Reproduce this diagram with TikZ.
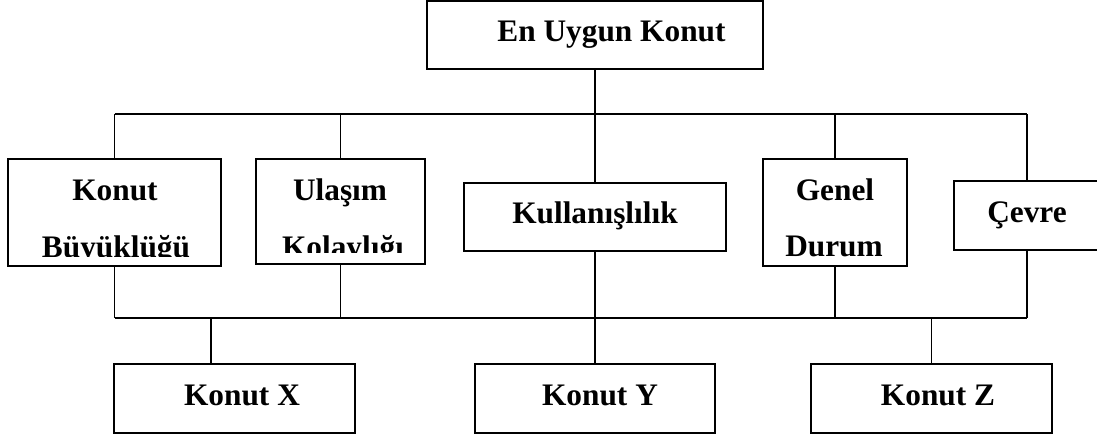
\documentclass[tikz,border=0pt]{standalone}
\usepackage{fontspec}
\setmainfont{Liberation Serif}
\begin{document}
\begin{tikzpicture}[x=0.75pt,y=-0.75pt,
  box/.style={draw,line width=1.5pt,rectangle,inner sep=0pt,outer sep=0pt},
  lbl/.style={anchor=base,inner sep=0pt,font=\fontsize{23.5}{28}\selectfont\bfseries},
  wire/.style={line width=1.1pt},
  bus/.style={line width=1.9pt}]
\useasboundingbox (0,0) rectangle (1097,436);
\clip (0,0) rectangle (1097,436);

% boxes
\node[box,minimum width=336*0.75pt,minimum height=68*0.75pt] (top) at (595,35) {};
\node[box,minimum width=213*0.75pt,minimum height=107*0.75pt] (b1) at (114.5,212.5) {};
\node[box,minimum width=169*0.75pt,minimum height=105*0.75pt] (b2) at (340.5,211.5) {};
\node[box,minimum width=262*0.75pt,minimum height=68*0.75pt] (b3) at (595,217) {};
\node[box,minimum width=144*0.75pt,minimum height=107*0.75pt] (b4) at (835,212.5) {};
\node[box,minimum width=146*0.75pt,minimum height=69*0.75pt] (b5) at (1027,215.5) {};
\node[box,minimum width=241*0.75pt,minimum height=69*0.75pt] (kx) at (234.5,398.5) {};
\node[box,minimum width=240*0.75pt,minimum height=69*0.75pt] (ky) at (595,398.5) {};
\node[box,minimum width=241*0.75pt,minimum height=69*0.75pt] (kz) at (931.5,398.5) {};

% labels
\node[lbl] (ttop) at (611.5,41.7) {En Uygun Konut};
\node[lbl] (t1a) at (115,200) {Konut};
\begin{scope}
  \clip (0,230) rectangle (230,256);
  \node[lbl] (t1b) at (116,257) {Büyüklüğü};
\end{scope}
\node[lbl] (t2a) at (340,200) {Ulaşım};
\begin{scope}
  \clip (250,225) rectangle (430,252);
  \node[lbl] (t2b) at (343,257) {Kolaylığı};
\end{scope}
\node[lbl] (t3) at (595,223) {Kullanışlılık};
\node[lbl] (t4a) at (835,200) {Genel};
\node[lbl] (t4b) at (834,256) {Durum};
\node[lbl] (t5) at (1027,222) {Çevre};
\node[lbl] (tx) at (242,405) {Konut X};
\node[lbl] (ty) at (600,405) {Konut Y};
\node[lbl] (tz) at (938,405) {Konut Z};

% upper bus
\coordinate (ub) at (595,114);
\draw[wire] (top.south) -- (ub);
\draw[wire] (b1.north |- ub) -- (b5.north |- ub);
\foreach \b in {b1,b2,b3,b4,b5}
  \draw[wire] (\b.north |- ub) -- (\b.north);

% lower bus
\coordinate (lb) at (595,318);
\foreach \b in {b1,b2,b3,b4,b5}
  \draw[wire] (\b.south) -- (\b.south |- lb);
\draw[bus] (b1.south |- lb) -- (b5.south |- lb);
\coordinate (dx) at (211,318);
\draw[wire] (dx) -- (dx |- kx.north);
\draw[wire] (ky.north |- lb) -- (ky.north);
\draw[wire] (kz.north |- lb) -- (kz.north);
\end{tikzpicture}
\end{document}
